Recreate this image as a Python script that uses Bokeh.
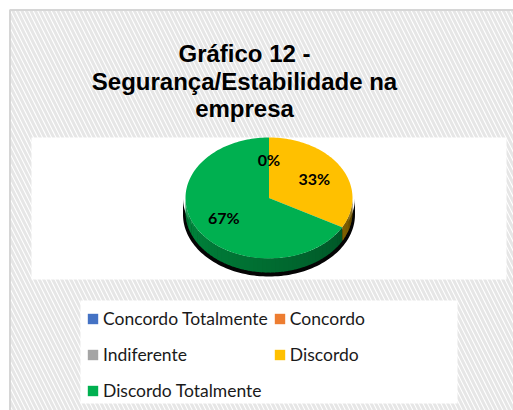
import numpy as np
from bokeh.plotting import figure
from bokeh.models import Range1d, Legend, LegendItem, ColumnDataSource
from bokeh.core.properties import value
from bokeh.embed import file_html
from bokeh.resources import INLINE

# ---- data ----
title_lines = ["Gráfico 12 -", "Segurança/Estabilidade na", "empresa"]
categories = ["Concordo Totalmente", "Concordo", "Indiferente", "Discordo", "Discordo Totalmente"]
percentages = [0, 0, 0, 33, 67]
colors = ["#4472C4", "#ED7D31", "#A5A5A5", "#FFC000", "#00B050"]

# ---- layout (page pixel coordinates) ----
W, H = 513, 410
cx, cy, rx, ry, depth = 268.5, 197.5, 83.5, 60.5, 14

p = figure(width=W, height=H, x_range=Range1d(0, W), y_range=Range1d(H, 0),
           output_backend="svg", toolbar_location=None, min_border=0,
           x_axis_location=None, y_axis_location=None,
           background_fill_color="white", border_fill_color="white",
           outline_line_color=None)
p.grid.visible = False

# chart area with hatch
p.quad(left=[9.5], right=[530], top=[9.5], bottom=[430], fill_color="white",
       hatch_pattern="\\", hatch_color="#e6e6e6", hatch_scale=9, hatch_weight=3,
       line_color="#d6d6d6", line_width=2)
# plot area
p.quad(left=[31], right=[506], top=[137], bottom=[279], fill_color="white", line_color=None)
# legend area
p.quad(left=[80], right=[457], top=[300], bottom=[403], fill_color="white", line_color=None)

# title
p.text(x=[244] * len(title_lines), y=[53 + 27.5 * i for i in range(len(title_lines))],
       text=title_lines, text_font=value("Liberation Sans"), text_font_style="bold",
       text_font_size="24px", text_align="center", text_baseline="alphabetic",
       text_color="black")

# ---- pie geometry from the data ----
total = float(sum(percentages))
cum = np.cumsum([0] + percentages)
a0 = 360.0 * cum[:-1] / total   # clockwise from 12 o'clock
a1 = 360.0 * cum[1:] / total

def ell(a, rxx, ryy, yc):
    t = np.radians(90.0 - np.asarray(a, dtype=float))
    return cx + rxx * np.cos(t), yc - ryy * np.sin(t)

def shade(hexcol, f):
    h = hexcol.lstrip("#")
    r, g, b = (int(h[k:k + 2], 16) for k in (0, 2, 4))
    return "#%02x%02x%02x" % (int(r * f), int(g * f), int(b * f))

# black shadow edge under the side
sa = np.linspace(90, 270, 91)
tx, ty = ell(sa, rx + 2.5, ry, cy)
bx, by = ell(sa[::-1], rx + 2.5, ry + 1.5, cy + depth + 2.5)
p.patch(x=list(tx) + list(bx), y=list(ty) + list(by), fill_color="#050505", line_color=None)

# side strips (front half)
sxs, sys_, scol = [], [], []
for i in range(len(categories)):
    lo, hi = max(a0[i], 90.0), min(a1[i], 270.0)
    if hi <= lo:
        continue
    edges = np.arange(lo, hi, 3.0).tolist() + [hi]
    for s, e in zip(edges[:-1], edges[1:]):
        e2 = min(e + 0.6, hi)
        arc = np.linspace(s, e2, 4)
        ux, uy = ell(arc, rx, ry, cy)
        dx, dy = ell(arc[::-1], rx, ry, cy + depth)
        sxs.append(list(ux) + list(dx))
        sys_.append(list(uy) + list(dy))
        m = 0.5 * (s + e)
        f = 0.45 + 0.33 * (m - 90.0) / 180.0
        scol.append(shade(colors[i], f))
p.patches(xs=sxs, ys=sys_, fill_color=scol, line_color=None)

# top faces
txs, tys = [], []
for i in range(len(categories)):
    n = max(2, int((a1[i] - a0[i]) / 1.5) + 1)
    arc = np.linspace(a0[i], a1[i], n)
    ax, ay = ell(arc, rx, ry, cy)
    txs.append([cx] + list(ax))
    tys.append([cy] + list(ay))
top_src = ColumnDataSource(dict(xs=txs, ys=tys, color=colors, name=categories))
top_r = p.patches(xs="xs", ys="ys", fill_color="color", line_color=None, source=top_src)

# data labels
lx, ly, lt, seen = [], [], [], set()
for i in range(len(categories)):
    mid = 0.5 * (a0[i] + a1[i])
    x, y = ell([mid], rx * 0.63, ry * 0.63, cy)
    key = (round(float(x[0]), 1), round(float(y[0]), 1))
    if key in seen:
        continue
    seen.add(key)
    lx.append(float(x[0])); ly.append(float(y[0])); lt.append("%d%%" % percentages[i])
p.text(x=lx, y=ly, text=lt, text_font=value("Lato"), text_font_style="bold",
       text_font_size="16px", text_align="center", text_baseline="middle", text_color="black")

# legend
items = [LegendItem(label=categories[i], renderers=[top_r], index=i) for i in range(len(categories))]
legend = Legend(items=items, location=(86, 4), orientation="horizontal", ncols=2,
                glyph_width=13, glyph_height=13, label_standoff=4, spacing=5,
                padding=0, margin=0, border_line_color=None, background_fill_alpha=0,
                label_text_font="Lato", label_text_font_size="17.5px",
                label_text_color="#1a1a1a", label_height=31)
p.add_layout(legend)

open("out.html", "w").write(file_html(p, INLINE))
